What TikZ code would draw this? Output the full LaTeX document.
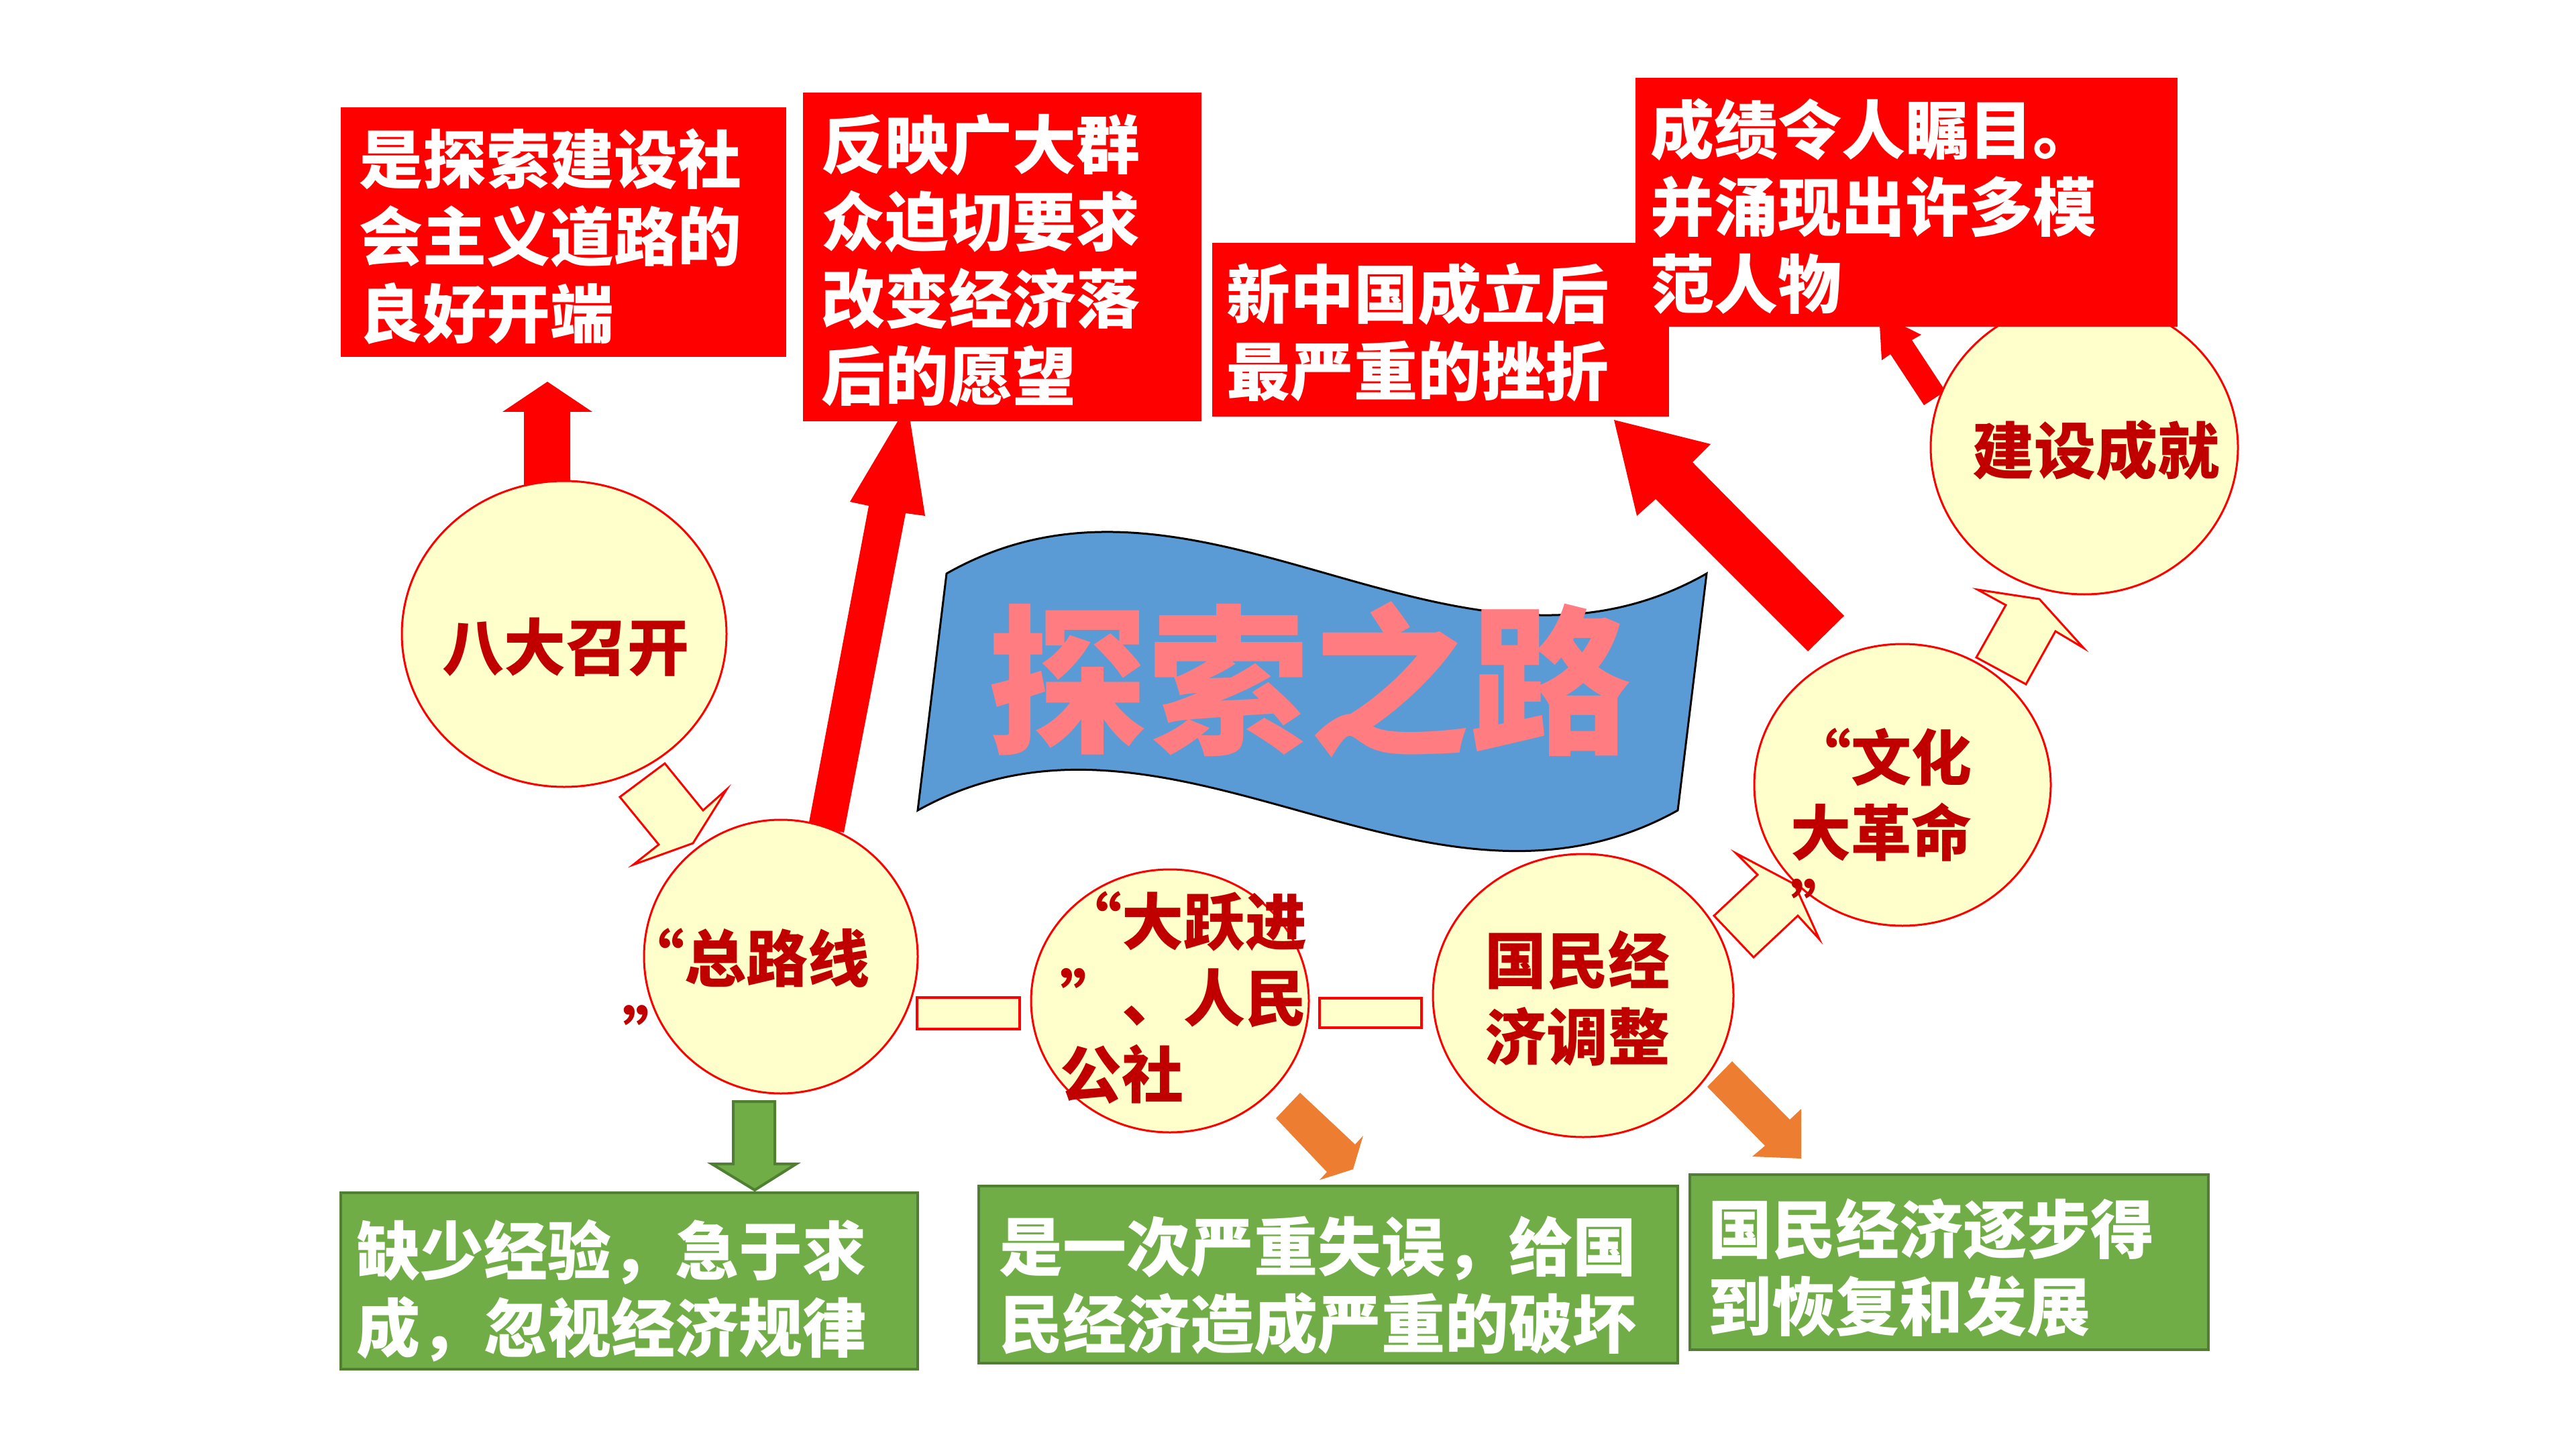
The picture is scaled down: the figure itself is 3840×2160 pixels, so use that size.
\documentclass[tikz,border=0pt]{standalone}
\usepackage{fontspec}
\usetikzlibrary{shapes.geometric}
\newfontfamily\cjk{Noto Sans CJK SC}
\newfontfamily\cjkq{Noto Sans CJK SC}[RawFeature=+fwid]
\definecolor{boxred}{HTML}{FF0000}
\definecolor{boxgreen}{HTML}{70AD47}
\definecolor{greenedge}{HTML}{507E32}
\definecolor{circfill}{HTML}{FFFFCC}
\definecolor{circtext}{HTML}{C00000}
\definecolor{flagblue}{HTML}{5B9BD5}
\definecolor{flagtext}{HTML}{FF7C80}
\definecolor{orangearrow}{HTML}{ED7D31}
\tikzset{
  redbox/.style={fill=boxred, draw=none, inner sep=0pt, anchor=north west},
  greenbox/.style={fill=boxgreen, draw=greenedge, line width=1pt, inner sep=0pt, anchor=north west},
  boxtxt/.style={text=white, align=left, inner sep=0pt, anchor=north west,
    font=\cjk\bfseries\fontsize{23.75pt}{28.75pt}\selectfont},
  circ/.style={ellipse, fill=circfill, draw=boxred, line width=0.75pt, inner sep=0pt},
  circtxt/.style={text=circtext, inner sep=0pt,
    font=\cjkq\bfseries\fontsize{23pt}{28.5pt}\selectfont},
  redarrow/.style={fill=boxred},
  yelarrow/.style={fill=circfill, draw=boxred, line width=0.75pt, line join=miter},
  orarrow/.style={fill=orangearrow},
  grarrow/.style={fill=boxgreen, draw=greenedge, line width=1pt},
  linkrect/.style={fill=circfill, draw=boxred, line width=1pt, inner sep=0pt}
}
\begin{document}
\begin{tikzpicture}[x=0.25pt,y=-0.25pt]
\useasboundingbox[fill=white] (0,0) rectangle (3840,2160);

% flag
\filldraw[fill=flagblue, draw=black, line width=0.75pt]
  (1411,855) .. controls (1789,640) and (2166,1070) .. (2544,855)
  -- (2501,1208) .. controls (2123,1418) and (1746,998) .. (1368,1208) -- cycle;
\node[text=flagtext, inner sep=0pt, font=\cjk\bfseries\fontsize{60pt}{60pt}\selectfont] (flagt) at (1951,1013) {探索之路};

% red block arrows
\fill[redarrow] (781,740) -- (781,614) -- (749,614) -- (816,569) -- (883,614) -- (850,614) -- (850,740) -- cycle;
\fill[redarrow] (1353,603) -- (1267,748) -- (1295,754) -- (1205,1231) -- (1258,1241) -- (1350,765) -- (1379,769) -- cycle;
\fill[redarrow] (2406,626) -- (2440,769) -- (2468,744) -- (2695,971) -- (2749,918) -- (2523,689) -- (2550,662) -- cycle;
\fill[redarrow] (2868,604) -- (2818,528) -- (2805,537) -- (2801,468) -- (2864,499) -- (2850,507) -- (2900,583) -- cycle;

% yellow block arrows
\filldraw[yelarrow] (924,1188) -- (982,1259) -- (944,1289) -- (1033,1257) -- (1083,1177) -- (1048,1208) -- (991,1138) -- cycle;
\filldraw[yelarrow] (2555,1365) -- (2620,1304) -- (2588,1272) -- (2675,1318) -- (2712,1400) -- (2680,1365) -- (2614,1427) -- cycle;
\filldraw[yelarrow] (2946,980) -- (2990,902) -- (2948,879) -- (3040,893) -- (3106,966) -- (3064,941) -- (3020,1020) -- cycle;

% orange block arrows
\fill[orarrow] (1938,1629) -- (1902,1667) -- (1978,1747) -- (1967,1759) -- (2017,1743) -- (2032,1693) -- (2020,1706) -- cycle;
\fill[orarrow] (2582,1582) -- (2545,1620) -- (2631,1708) -- (2612,1724) -- (2685,1727) -- (2685,1653) -- (2668,1669) -- cycle;

% green block arrow
\filldraw[grarrow] (1093,1642) -- (1155,1642) -- (1155,1735) -- (1187,1735) -- (1125,1774) -- (1061,1735) -- (1093,1735) -- cycle;

% link rectangles
\node[linkrect, minimum width=38.25pt, minimum height=11.75pt] (r1) at (1443.5,1510.5) {};
\node[linkrect, minimum width=38pt, minimum height=11pt] (r2) at (2043,1510) {};

% circles
\node[circ, minimum width=121pt, minimum height=114pt] (c1) at (841,945) {};
\node[circ, minimum width=102pt, minimum height=102pt] (c2) at (1164,1426) {};
\node[circ, minimum width=103.5pt, minimum height=98pt] (c3) at (1744,1492) {};
\node[circ, minimum width=112pt, minimum height=105.5pt] (c4) at (2360,1484) {};
\node[circ, minimum width=110.5pt, minimum height=105pt] (c5) at (2836,1170) {};
\node[circ, minimum width=114.5pt, minimum height=109.5pt] (c6) at (3107,667) {};

% circle texts
\node[circtxt] (c1t) at (843,965) {八大召开};
\node[circtxt, anchor=north west, align=left] (c2t) at (928,1383) {“总路线\\”};
\node[circtxt, anchor=north west, align=left] (c3t) at (1580,1328) {“大跃进\\”、人民\\公社};
\node[circtxt, align=center] (c4t) at (2351,1488) {国民经\\济调整};
\node[circtxt, anchor=north west, align=left, font=\cjkq\bfseries\fontsize{22.5pt}{28pt}\selectfont] (c5t) at (2669,1085) {“文化\\大革命\\”};
\node[circtxt] (c6t) at (3124,671) {建设成就};

% red boxes
\node[redbox, minimum width=166pt, minimum height=93pt] (b1) at (507,159) {};
\node[redbox, minimum width=148.5pt, minimum height=122.5pt] (b2) at (1196,137) {};
\node[redbox, minimum width=170.25pt, minimum height=64.75pt] (b3) at (1806,361) {};
\node[redbox, minimum width=202pt, minimum height=92.75pt] (b4) at (2437,115) {};

% green boxes
\node[greenbox, minimum width=215pt, minimum height=65.75pt] (g1) at (506,1776) {};
\node[greenbox, minimum width=260.5pt, minimum height=66pt] (g2) at (1457,1766) {};
\node[greenbox, minimum width=193.25pt, minimum height=65.25pt] (g3) at (2517,1749) {};

% box texts
\node[boxtxt] (b1t) at (535,191) {是探索建设社\\会主义道路的\\良好开端};
\node[boxtxt] (b2t) at (1224,169) {反映广大群\\众迫切要求\\改变经济落\\后的愿望};
\node[boxtxt] (b3t) at (1828,391) {新中国成立后\\最严重的挫折};
\node[boxtxt] (b4t) at (2460,146) {成绩令人瞩目。\\并涌现出许多模\\范人物};
\node[boxtxt] (g1t) at (531,1817) {缺少经验，急于求\\成，忽视经济规律};
\node[boxtxt] (g2t) at (1489,1812) {是一次严重失误，给国\\民经济造成严重的破坏};
\node[boxtxt] (g3t) at (2546,1786) {国民经济逐步得\\到恢复和发展};
\end{tikzpicture}
\end{document}
